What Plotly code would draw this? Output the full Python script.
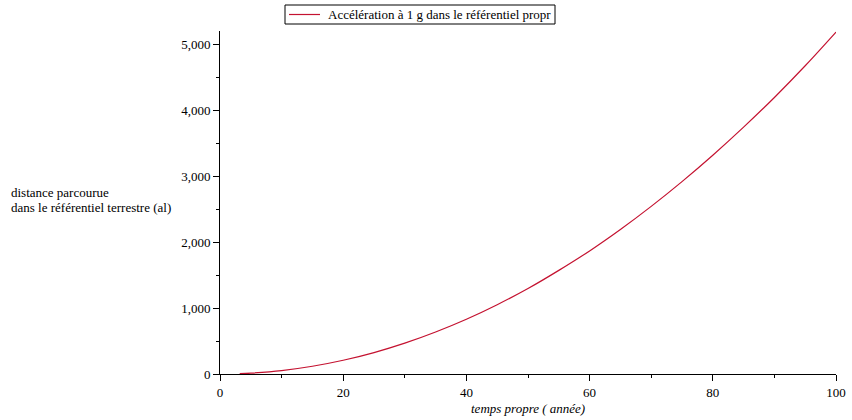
import plotly.graph_objects as go

# Data
temps_propre = [3.2, 5, 10, 15, 20, 25, 30, 35, 40, 45, 50, 55, 60, 65, 70, 75, 80, 85, 90, 95, 100]
distance = [5, 13, 52, 117, 208, 325, 468, 637, 830, 1050, 1295, 1570, 1865, 2190, 2540, 2915,
            3315, 3740, 4190, 4670, 5180]

serie_nom = "Accélération à 1 g dans le référentiel propr"
titre_x = "<i>temps propre ( année)</i>"
titre_y_l1 = "distance parcourue"
titre_y_l2 = "dans le référentiel terrestre (al)"

FONT = "Liberation Serif, Times New Roman, serif"
LINE_COLOR = "#c41230"

W, H = 852, 420
L, R, T, B = 220, 16, 31, 46
PW, PH = W - L - R, H - T - B


def px(x):
    return (x - L) / PW


def py(y):
    return (H - B - y) / PH


fig = go.Figure()
fig.add_trace(go.Scatter(
    x=temps_propre, y=distance, mode="lines", name=serie_nom,
    line=dict(color=LINE_COLOR, width=1.2, shape="spline"), showlegend=False,
))

shapes = [
    # legend box
    dict(type="rect", xref="paper", yref="paper", x0=px(285), x1=px(555), y0=py(24), y1=py(5),
         line=dict(color="black", width=1), fillcolor="white", layer="above"),
    dict(type="line", xref="paper", yref="paper", x0=px(289), x1=px(320), y0=py(14.5), y1=py(14.5),
         line=dict(color=LINE_COLOR, width=1.2), layer="above"),
]

fig.update_layout(
    width=W, height=H,
    margin=dict(l=L, r=R, t=T, b=B, autoexpand=False),
    paper_bgcolor="white", plot_bgcolor="white",
    font=dict(family=FONT, size=13, color="black"),
    showlegend=False,
    xaxis=dict(
        range=[0, 100], tickvals=[0, 20, 40, 60, 80, 100],
        showgrid=False, zeroline=False, showline=True, linecolor="black", linewidth=1,
        ticks="outside", ticklen=6, tickcolor="black", tickwidth=1,
        minor=dict(tickvals=[10, 30, 50, 70, 90], ticks="outside", ticklen=3, tickcolor="black"),
        tickfont=dict(family=FONT, size=13),
    ),
    yaxis=dict(
        range=[0, 5197], tickvals=[0, 1000, 2000, 3000, 4000, 5000],
        tickformat=",d", separatethousands=True,
        showgrid=False, zeroline=False, showline=True, linecolor="black", linewidth=1,
        ticks="outside", ticklen=6, tickcolor="black", tickwidth=1,
        minor=dict(tickvals=[500, 1500, 2500, 3500, 4500], ticks="outside", ticklen=3, tickcolor="black"),
        tickfont=dict(family=FONT, size=13),
    ),
    shapes=shapes,
    annotations=[
        dict(text=serie_nom, xref="paper", yref="paper", x=px(326), y=py(15),
             xanchor="left", yanchor="middle", showarrow=False,
             font=dict(family=FONT, size=13)),
        dict(text=titre_y_l1, xref="paper", yref="paper", x=px(9), y=py(192),
             xanchor="left", yanchor="middle", showarrow=False,
             font=dict(family=FONT, size=13)),
        dict(text=titre_y_l2, xref="paper", yref="paper", x=px(9), y=py(207),
             xanchor="left", yanchor="middle", showarrow=False,
             font=dict(family=FONT, size=13)),
        dict(text=titre_x, xref="paper", yref="paper", x=0.5, y=py(409),
             xanchor="center", yanchor="middle", showarrow=False,
             font=dict(family=FONT, size=13)),
    ],
)

fig.write_html("out.html", config={"displayModeBar": False},
               post_script="document.body.style.margin='0';")
